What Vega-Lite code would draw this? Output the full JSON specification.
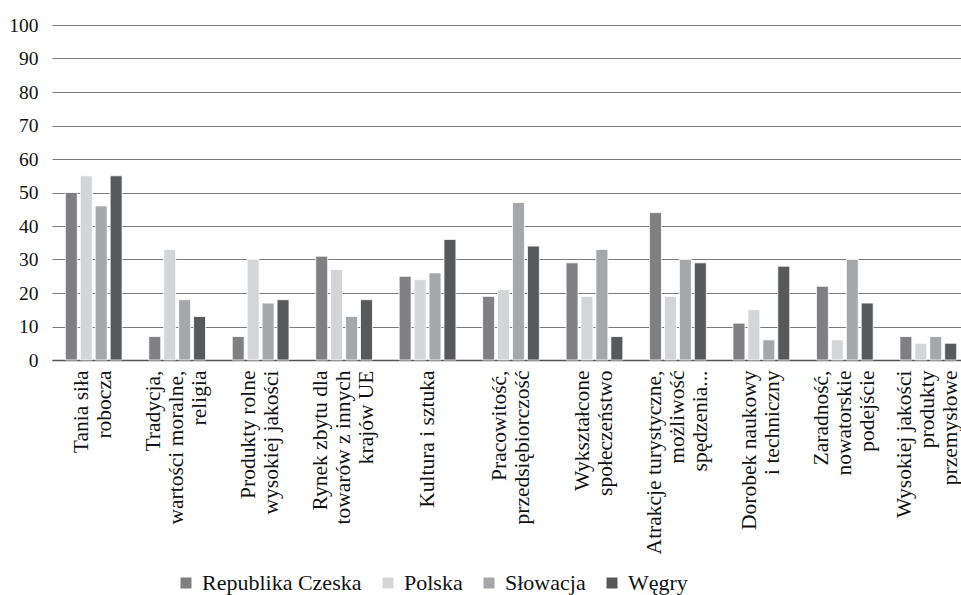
{
  "$schema": "https://vega.github.io/schema/vega-lite/v6.json",
  "width": 918,
  "height": 335,
  "autosize": {"type": "none"},
  "padding": {"left": 52, "top": 25, "right": 0, "bottom": 235},
  "background": "white",
  "data": {
    "values": [
      {"cat": "Tania siła|robocza", "kraj": "Republika Czeska", "v": 50},
      {"cat": "Tania siła|robocza", "kraj": "Polska", "v": 55},
      {"cat": "Tania siła|robocza", "kraj": "Słowacja", "v": 46},
      {"cat": "Tania siła|robocza", "kraj": "Węgry", "v": 55},
      {"cat": "Tradycja,|wartości moralne,|religia", "kraj": "Republika Czeska", "v": 7},
      {"cat": "Tradycja,|wartości moralne,|religia", "kraj": "Polska", "v": 33},
      {"cat": "Tradycja,|wartości moralne,|religia", "kraj": "Słowacja", "v": 18},
      {"cat": "Tradycja,|wartości moralne,|religia", "kraj": "Węgry", "v": 13},
      {"cat": "Produkty rolne|wysokiej jakości", "kraj": "Republika Czeska", "v": 7},
      {"cat": "Produkty rolne|wysokiej jakości", "kraj": "Polska", "v": 30},
      {"cat": "Produkty rolne|wysokiej jakości", "kraj": "Słowacja", "v": 17},
      {"cat": "Produkty rolne|wysokiej jakości", "kraj": "Węgry", "v": 18},
      {"cat": "Rynek zbytu dla|towarów z innych|krajów UE", "kraj": "Republika Czeska", "v": 31},
      {"cat": "Rynek zbytu dla|towarów z innych|krajów UE", "kraj": "Polska", "v": 27},
      {"cat": "Rynek zbytu dla|towarów z innych|krajów UE", "kraj": "Słowacja", "v": 13},
      {"cat": "Rynek zbytu dla|towarów z innych|krajów UE", "kraj": "Węgry", "v": 18},
      {"cat": "Kultura i sztuka", "kraj": "Republika Czeska", "v": 25},
      {"cat": "Kultura i sztuka", "kraj": "Polska", "v": 24},
      {"cat": "Kultura i sztuka", "kraj": "Słowacja", "v": 26},
      {"cat": "Kultura i sztuka", "kraj": "Węgry", "v": 36},
      {"cat": "Pracowitość,|przedsiębiorczość", "kraj": "Republika Czeska", "v": 19},
      {"cat": "Pracowitość,|przedsiębiorczość", "kraj": "Polska", "v": 21},
      {"cat": "Pracowitość,|przedsiębiorczość", "kraj": "Słowacja", "v": 47},
      {"cat": "Pracowitość,|przedsiębiorczość", "kraj": "Węgry", "v": 34},
      {"cat": "Wykształcone|społeczeństwo", "kraj": "Republika Czeska", "v": 29},
      {"cat": "Wykształcone|społeczeństwo", "kraj": "Polska", "v": 19},
      {"cat": "Wykształcone|społeczeństwo", "kraj": "Słowacja", "v": 33},
      {"cat": "Wykształcone|społeczeństwo", "kraj": "Węgry", "v": 7},
      {"cat": "Atrakcje turystyczne,|możliwość|spędzenia...", "kraj": "Republika Czeska", "v": 44},
      {"cat": "Atrakcje turystyczne,|możliwość|spędzenia...", "kraj": "Polska", "v": 19},
      {"cat": "Atrakcje turystyczne,|możliwość|spędzenia...", "kraj": "Słowacja", "v": 30},
      {"cat": "Atrakcje turystyczne,|możliwość|spędzenia...", "kraj": "Węgry", "v": 29},
      {"cat": "Dorobek naukowy|i techniczny", "kraj": "Republika Czeska", "v": 11},
      {"cat": "Dorobek naukowy|i techniczny", "kraj": "Polska", "v": 15},
      {"cat": "Dorobek naukowy|i techniczny", "kraj": "Słowacja", "v": 6},
      {"cat": "Dorobek naukowy|i techniczny", "kraj": "Węgry", "v": 28},
      {"cat": "Zaradność,|nowatorskie|podejście", "kraj": "Republika Czeska", "v": 22},
      {"cat": "Zaradność,|nowatorskie|podejście", "kraj": "Polska", "v": 6},
      {"cat": "Zaradność,|nowatorskie|podejście", "kraj": "Słowacja", "v": 30},
      {"cat": "Zaradność,|nowatorskie|podejście", "kraj": "Węgry", "v": 17},
      {"cat": "Wysokiej jakości|produkty|przemysłowe", "kraj": "Republika Czeska", "v": 7},
      {"cat": "Wysokiej jakości|produkty|przemysłowe", "kraj": "Polska", "v": 5},
      {"cat": "Wysokiej jakości|produkty|przemysłowe", "kraj": "Słowacja", "v": 7},
      {"cat": "Wysokiej jakości|produkty|przemysłowe", "kraj": "Węgry", "v": 5}
    ]
  },
  "mark": {"type": "bar", "stroke": "white", "strokeWidth": 0.8},
  "encoding": {
    "x": {
      "field": "cat",
      "type": "nominal",
      "sort": null,
      "title": null,
      "scale": {"paddingInner": 0.32, "paddingOuter": 0.16},
      "axis": {
        "labelExpr": "split(datum.label, '|')",
        "labelAngle": -90,
        "labelAlign": "right",
        "labelBaseline": "middle",
        "labelFontSize": 21.5,
        "labelLineHeight": 23,
        "labelPadding": 10,
        "labelOffset": {
          "condition": [
            {"test": "length(split(datum.value, '|')) == 3", "value": -23},
            {"test": "length(split(datum.value, '|')) == 2", "value": -11.5}
          ],
          "value": 0
        },
        "ticks": false,
        "domainColor": "#555",
        "domainWidth": 1.5,
        "labelLimit": 0
      }
    },
    "xOffset": {
      "field": "kraj",
      "type": "nominal",
      "sort": ["Republika Czeska", "Polska", "Słowacja", "Węgry"],
      "scale": {"paddingInner": 0.2, "paddingOuter": 0}
    },
    "y": {
      "field": "v",
      "type": "quantitative",
      "title": null,
      "scale": {"domain": [0, 100], "nice": false},
      "axis": {
        "values": [0, 10, 20, 30, 40, 50, 60, 70, 80, 90, 100],
        "domain": false,
        "ticks": false,
        "labelFontSize": 19.5,
        "labelPadding": 14,
        "gridColor": "#7a7a7a",
        "gridWidth": 1
      }
    },
    "color": {
      "field": "kraj",
      "type": "nominal",
      "sort": ["Republika Czeska", "Polska", "Słowacja", "Węgry"],
      "scale": {
        "domain": ["Republika Czeska", "Polska", "Słowacja", "Węgry"],
        "range": ["#808083", "#d4d5d7", "#a6a7aa", "#58595b"]
      },
      "legend": {
        "title": null,
        "orient": "none",
        "direction": "horizontal",
        "legendX": 123,
        "legendY": 547,
        "padding": 0,
        "symbolType": "square",
        "symbolSize": 121,
        "symbolStrokeWidth": 0,
        "symbolOpacity": 1,
        "labelFontSize": 22,
        "labelOffset": 5,
        "columnPadding": 15,
        "labelLimit": 0
      }
    }
  },
  "config": {
    "font": "Liberation Serif",
    "view": {"stroke": null},
    "axis": {"labelFont": "Liberation Serif", "labelColor": "#111"},
    "legend": {"labelFont": "Liberation Serif", "labelColor": "#111"}
  }
}
